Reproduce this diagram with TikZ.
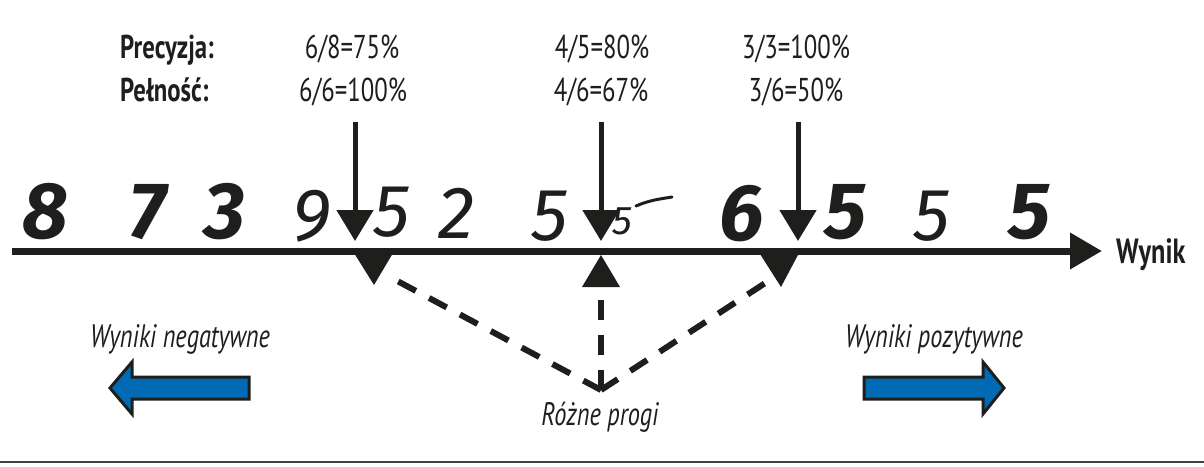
\documentclass[tikz,border=0pt]{standalone}
\usepackage{fontspec}
\setmainfont[FakeStretch=0.75]{PT Sans}
\newfontfamily\digitfont{Fira Sans}
\usetikzlibrary{arrows.meta}
\definecolor{ink}{RGB}{30,30,28}
\definecolor{arrowblue}{RGB}{0,106,180}
\begin{document}
\begin{tikzpicture}[x=1pt,y=-1pt,
  txt/.style={font=\fontsize{33}{35}\selectfont, text=ink, inner sep=0pt, anchor=base},
  headtxt/.style={font=\fontsize{33}{35}\selectfont\bfseries, text=ink, inner sep=0pt, anchor=base west},
  notetxt/.style={font=\fontsize{32.5}{34}\selectfont\itshape, text=ink, inner sep=0pt, anchor=base},
  axistxt/.style={font=\fontsize{35}{37}\selectfont\bfseries, text=ink, inner sep=0pt, anchor=base west},
  digbold/.style={font=\digitfont\fontsize{80}{84}\selectfont\bfseries\itshape, text=ink, inner sep=0pt, anchor=base},
  digthin/.style={font=\digitfont\fontsize{74}{80}\selectfont\itshape, text=ink, inner sep=0pt, anchor=base},
  axisline/.style={draw=ink, line width=7pt, -{Triangle[width=35pt,length=32pt]}},
  thr/.style={draw=ink, line width=5pt, -{Triangle[width=36pt,length=31pt]}},
  marker/.style={fill=ink, draw=none},
  dashline/.style={draw=ink, line width=6pt, dash pattern=on 20pt off 15pt},
  bigarrow/.style={fill=arrowblue, draw=ink, line width=3pt, line join=miter},
  rule/.style={draw=ink!85, line width=2.5pt}
]
\useasboundingbox (0,0) rectangle (1204,466);

% header texts
\node[headtxt] (prec) at (120,58) {Precyzja:};
\node[headtxt] (peln) at (120,101) {Pełność:};
\node[txt] (p1) at (352,58) {6/8=75\%};
\node[txt] (r1) at (353,101) {6/6=100\%};
\node[txt] (p2) at (602,58) {4/5=80\%};
\node[txt] (r2) at (601,101) {4/6=67\%};
\node[txt] (p3) at (796,58) {3/3=100\%};
\node[txt] (r3) at (796,101) {3/6=50\%};

% digits
\node[digbold] (d1) at (45,238) {8};
\node[digbold] (d2) at (148,238) {7};
\node[digbold] (d3) at (225,238) {3};
\node[digthin] (d4) at (312,240) {9};
\node[digthin] (d5) at (392,236) {5};
\node[digthin] (d6) at (457,238) {2};
\node[digthin] (d7) at (550,240) {5};
\node[font=\digitfont\fontsize{40}{42}\selectfont\itshape, text=ink, inner sep=0pt, anchor=base] (d8) at (622,234) {5};
\draw[ink, line width=3pt, line cap=round] (636,206) .. controls (650,200) and (660,199) .. (672,197);
\node[digbold] (d9) at (742,240) {6};
\node[digbold] (d10) at (846,238) {5};
\node[digthin] (d11) at (932,240) {5};
\node[digbold] (d12) at (1030,238) {5};

% axis
\coordinate (axs) at (12,251);
\coordinate (axe) at (1102,251);
\draw[axisline] (axs) -- (axe);
\node[axistxt] (wynik) at (1116,263) {Wynik};

% threshold arrows
\coordinate (t1a) at (355,122); \coordinate (t1b) at (355,241);
\coordinate (t2a) at (601,122); \coordinate (t2b) at (601,241);
\coordinate (t3a) at (798,122); \coordinate (t3b) at (798,241);
\draw[thr] (t1a) -- (t1b);
\draw[thr] (t2a) -- (t2b);
\draw[thr] (t3a) -- (t3b);

% lower markers
\coordinate (m1) at (374,285);
\coordinate (m2) at (601,255);
\coordinate (m3) at (781,287);
\fill[marker] (354,253) -- (393,253) -- (m1) -- cycle;
\fill[marker] (m2) -- (620,287) -- (582,287) -- cycle;
\fill[marker] (760,254) -- (799,253) -- (m3) -- cycle;

% dashed connectors
\coordinate (bot) at (601,390);
\coordinate (l1) at (388,276);
\coordinate (l2) at (601,290);
\coordinate (l3) at (776,276);
\draw[dashline] (bot) -- (l1);
\draw[dashline] (bot) -- (l2);
\draw[dashline] (bot) -- (l3);

% notes
\node[notetxt] (neg) at (180,347) {Wyniki negatywne};
\node[notetxt] (pos) at (934,347) {Wyniki pozytywne};
\node[notetxt] (prog) at (600,425) {Różne progi};

% blue arrows
\draw[bigarrow] (110,388) -- (132,362) -- (132,377) -- (249,377) -- (249,399) -- (132,399) -- (132,414) -- cycle;
\draw[bigarrow] (1004,388) -- (983,362) -- (983,377) -- (864,377) -- (864,399) -- (983,399) -- (983,414) -- cycle;

% bottom rule
\coordinate (rl) at (0,462);
\coordinate (rr) at (1204,462);
\draw[rule] (rl) -- (rr);
\end{tikzpicture}
\end{document}
